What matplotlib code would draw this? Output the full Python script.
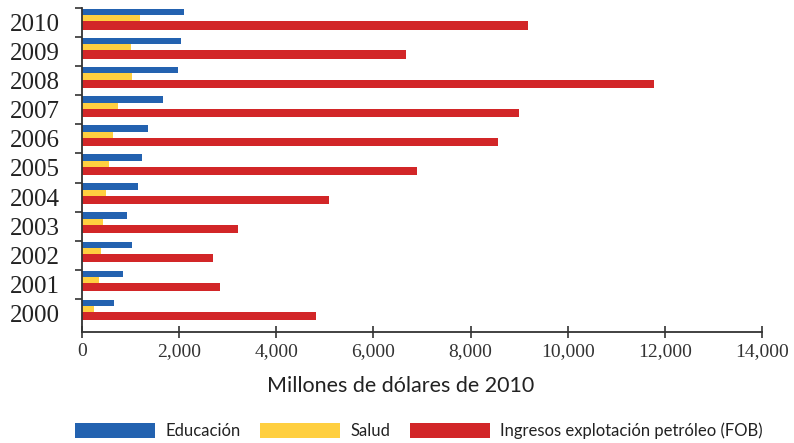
import numpy as np
import matplotlib.pyplot as plt
from matplotlib.ticker import FuncFormatter, FixedLocator

years = ['2000', '2001', '2002', '2003', '2004', '2005',
         '2006', '2007', '2008', '2009', '2010']
educacion = [660, 845, 1030, 925, 1150, 1235, 1360, 1660, 1975, 2040, 2095]
salud = [245, 350, 390, 430, 495, 555, 645, 740, 1030, 1000, 1200]
petroleo = [4820, 2840, 2700, 3210, 5090, 6900, 8565, 9000, 11780, 6670, 9180]

blue = '#2362b0'
yellow = '#ffcf40'
red = '#d22628'
axis_color = '#333333'

plt.rcParams['font.family'] = ['Liberation Serif', 'DejaVu Serif']

fig = plt.figure(figsize=(7.94, 4.43), dpi=100)
ax = fig.add_axes([82 / 794, 1 - 332 / 443, 680 / 794, 324 / 443])

pos = np.arange(len(years))
ax.barh(pos + 0.36, educacion, height=0.22, color=blue, label='Educación')
ax.barh(pos + 0.145, salud, height=0.21, color=yellow, label='Salud')
ax.barh(pos - 0.10, petroleo, height=0.28, color=red,
        label='Ingresos explotación petróleo (FOB)')

ax.set_xlim(0, 14000)
ax.set_ylim(-0.64, len(years) - 0.5)

ax.xaxis.set_major_locator(FixedLocator(np.arange(0, 14001, 2000)))
ax.xaxis.set_major_formatter(FuncFormatter(lambda v, p: f'{int(v):,}'))
ax.tick_params(axis='x', direction='inout', length=8, width=1.2,
               color=axis_color, labelsize=14, pad=4, labelcolor='#333333')

# group separators as major ticks, year labels on minor ticks
ax.yaxis.set_major_locator(FixedLocator(pos + 0.5))
ax.yaxis.set_major_formatter(FuncFormatter(lambda v, p: ''))
ax.yaxis.set_minor_locator(FixedLocator(pos))
ax.set_yticklabels(years, minor=True)
ax.tick_params(axis='y', which='major', direction='out', length=5,
               width=1.2, color=axis_color)
ax.tick_params(axis='y', which='minor', length=0, labelsize=18, pad=16,
               labelcolor='#222222')

for side in ['top', 'right']:
    ax.spines[side].set_visible(False)
for side in ['left', 'bottom']:
    ax.spines[side].set_color(axis_color)
    ax.spines[side].set_linewidth(1.3)

sans = ['Lato', 'DejaVu Sans']
fig.text(401 / 794, 1 - 386 / 443, 'Millones de dólares de 2010',
         ha='center', va='center', fontsize=15.5, family=sans, color='#222222')

leg = fig.legend(loc='center', bbox_to_anchor=(419 / 794, 1 - 431 / 443),
                 ncol=3, frameon=False, handlelength=4.8, handleheight=1.0,
                 handletextpad=0.6, columnspacing=1.2,
                 prop={'family': sans, 'size': 12})
for t in leg.get_texts():
    t.set_color('#222222')

fig.savefig('out.png', dpi=100)
